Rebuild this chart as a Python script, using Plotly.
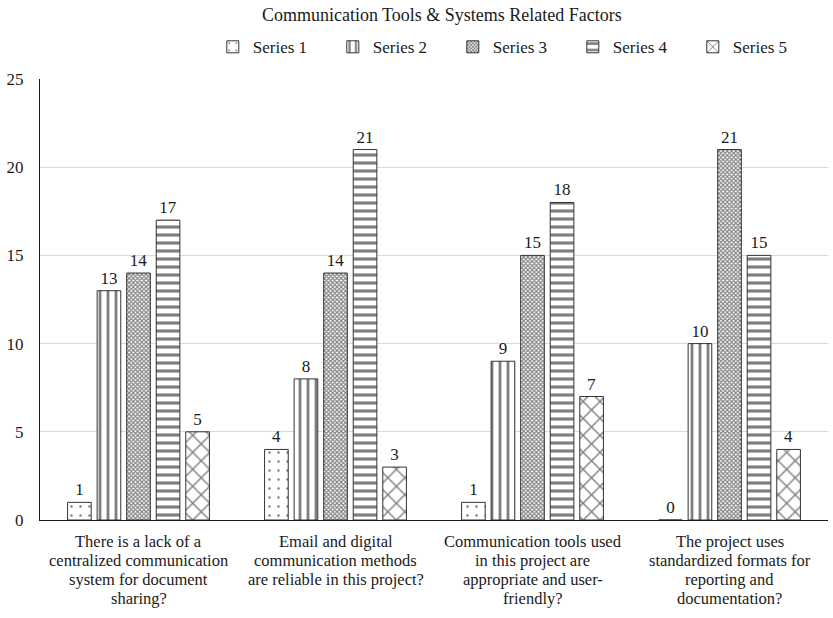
import plotly.graph_objects as go

categories = ["Q1", "Q2", "Q3", "Q4"]
category_labels = [
    ["There is a lack of a", "centralized communication", "system for document", "sharing?"],
    ["Email and digital", "communication methods", "are reliable in this project?"],
    ["Communication tools used", "in this project are", "appropriate and user-", "friendly?"],
    ["The project uses", "standardized formats for", "reporting and", "documentation?"],
]
series_names = ["Series 1", "Series 2", "Series 3", "Series 4", "Series 5"]
series_values = [
    [1, 4, 1, 0],
    [13, 8, 9, 10],
    [14, 14, 15, 21],
    [17, 21, 18, 15],
    [5, 3, 7, 4],
]
patterns = [
    dict(shape=".", size=9, solidity=0.06),
    dict(shape="|", size=8, solidity=0.35),
    dict(shape="x", size=3, solidity=0.6),
    dict(shape="-", size=8, solidity=0.4),
    dict(shape="x", size=12, solidity=0.22),
]

FONT = "Liberation Serif, Times New Roman, serif"
INK = "#1a1a1a"

fig = go.Figure()
for name, vals, pat in zip(series_names, series_values, patterns):
    fig.add_trace(go.Bar(
        name=name, x=categories, y=vals,
        text=[str(v) for v in vals], textposition="outside",
        textfont=dict(family=FONT, size=17, color=INK),
        cliponaxis=False,
        marker=dict(color="white", line=dict(color="#333", width=1),
                    pattern=dict(fgcolor="black", bgcolor="white", **pat)),
    ))

# multi-line category labels under the axis, with tighter line spacing
for cat, lines in zip(categories, category_labels):
    for i, line in enumerate(lines):
        fig.add_annotation(x=cat, y=0, xref="x", yref="y", text=line,
                           showarrow=False, xanchor="center", yanchor="middle",
                           yshift=-(21 + 19 * i),
                           font=dict(family=FONT, size=16.5, color=INK))

fig.update_layout(
    width=833, height=618,
    margin=dict(l=40, r=5, t=79, b=98),
    paper_bgcolor="white", plot_bgcolor="white",
    font=dict(family=FONT, size=17, color=INK),
    title=dict(text="Communication Tools & Systems Related Factors",
               xref="paper", x=0.51, xanchor="center", y=0.976, yanchor="middle",
               font=dict(family=FONT, size=18, color=INK)),
    legend=dict(orientation="h", x=0.6, xanchor="center", y=1.072, yanchor="middle",
                font=dict(family=FONT, size=17, color=INK), traceorder="normal",
                itemwidth=30, entrywidth=75, entrywidthmode="pixels"),
    barmode="group", bargap=0.25, bargroupgap=0.2,
    showlegend=True,
)
fig.update_yaxes(range=[0, 25], dtick=5, showgrid=True, gridcolor="#d9d9d9",
                 showline=True, linecolor=INK, linewidth=1, ticks="",
                 zeroline=False, tickfont=dict(size=17), ticklabelstandoff=12)
fig.update_xaxes(showline=True, linecolor=INK, linewidth=1, ticks="",
                 showticklabels=False)

fig.write_html("out.html")
